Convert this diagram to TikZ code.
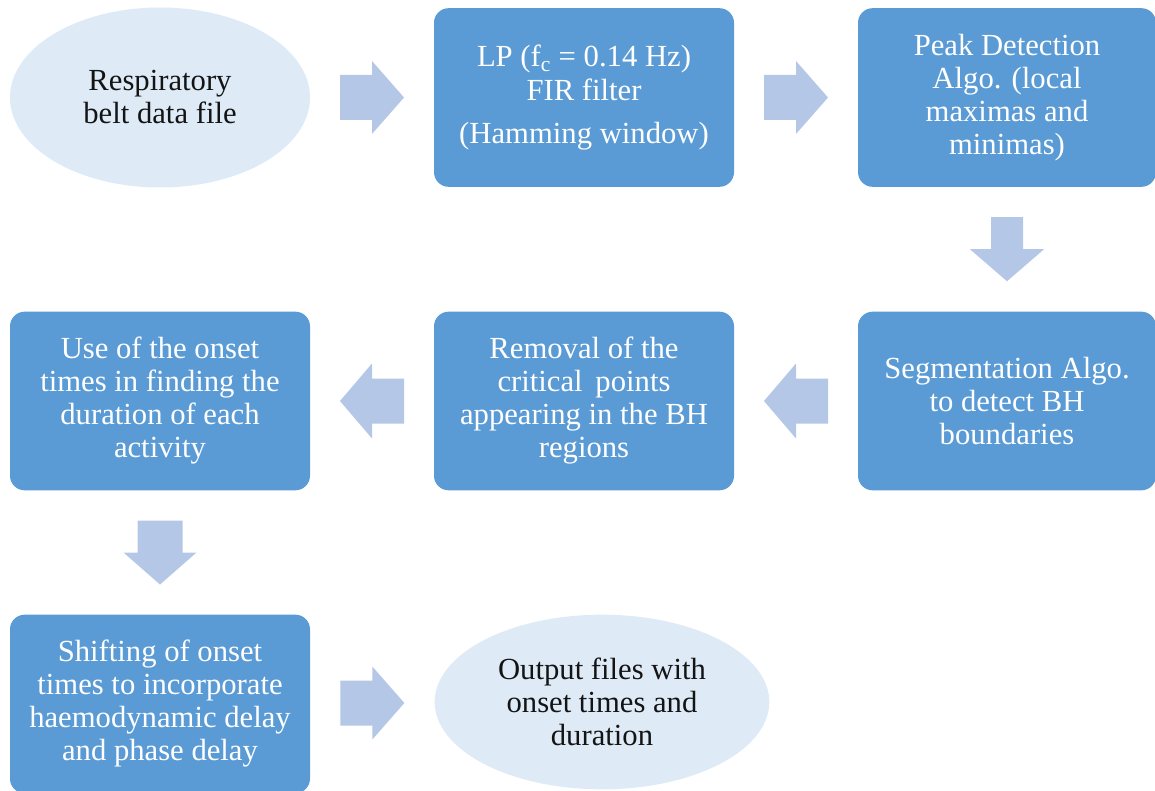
\documentclass[tikz,border=0pt]{standalone}
\usepackage{fontspec}
\setmainfont{Liberation Serif}
\usetikzlibrary{shapes.geometric,calc}
\definecolor{boxblue}{HTML}{5B9BD5}
\definecolor{elfill}{HTML}{DEEBF7}
\definecolor{arrfill}{HTML}{B4C7E7}
\newcommand\blockarrow[4]{%
  \begin{scope}[shift={(#1)}, rotate=#2]
    \fill[arrfill] (-32,-#3) -- (0,-#3) -- (0,-#4) -- (32,0) -- (0,#4) -- (0,#3) -- (-32,#3) -- cycle;
  \end{scope}}
\begin{document}
\begin{tikzpicture}[x=0.75pt, y=-0.75pt,
  txt/.style={font=\fontsize{23}{24.75}\selectfont, align=center},
  procbox/.style={txt, rectangle, rounded corners=11pt, fill=boxblue, text=white,
    minimum width=225pt, minimum height=134pt, inner sep=0pt},
  ellnode/.style={txt, ellipse, fill=elfill, text=black!92, inner sep=0pt}]
\useasboundingbox (0,0) rectangle (1155,791);
\node[ellnode, minimum width=225pt, minimum height=135pt] (e1) at (160,97.5) {Respiratory\\belt data file};
\node[procbox] (b2) at (584,97.5) {LP (f\textsubscript{c} = 0.14 Hz)\\[1pt]FIR filter\\[7pt](Hamming window)};
\node[procbox, minimum width=223.5pt] (b3) at (1007,97.5) {Peak Detection\\Algo. (local\\maximas and\\minimas)};
\node[procbox, minimum width=223.5pt] (b6) at (1007,401) {Segmentation Algo.\\to detect BH\\boundaries};
\node[procbox] (b5) at (584,401) {Removal of the\\critical\, points\\appearing in the BH\\regions};
\node[procbox] (b4) at (160,401) {Use of the onset\\times in finding the\\duration of each\\activity};
\node[procbox] (b7) at (160,704) {Shifting of onset\\times to incorporate\\haemodynamic delay\\and phase delay};
\node[ellnode, minimum width=251pt, minimum height=131pt] (e8) at (602,702) {Output files with\\onset times and\\duration};
\coordinate (a1) at ($(e1.east)!0.5!(b2.west)$);
\coordinate (a2) at ($(b2.east)!0.5!(b3.west)$);
\coordinate (a3) at ($(b3.south)!0.5!(b6.north)$);
\coordinate (a4) at ($(b6.west)!0.5!(b5.east)$);
\coordinate (a5) at ($(b5.west)!0.5!(b4.east)$);
\coordinate (a6) at ($(b4.south)!0.5!(b7.north)$);
\coordinate (a7) at ($(b7.east)!0.5!(e8.west)$);
\blockarrow{a1}{0}{22.5}{36.5}
\blockarrow{a2}{0}{22.5}{36.5}
\blockarrow{a3}{-90}{16}{37}
\blockarrow{a4}{180}{22.5}{37.5}
\blockarrow{a5}{180}{22.5}{37.5}
\blockarrow{a6}{-90}{22.5}{36.5}
\blockarrow{a7}{0}{22.5}{36.5}
\end{tikzpicture}
\end{document}
